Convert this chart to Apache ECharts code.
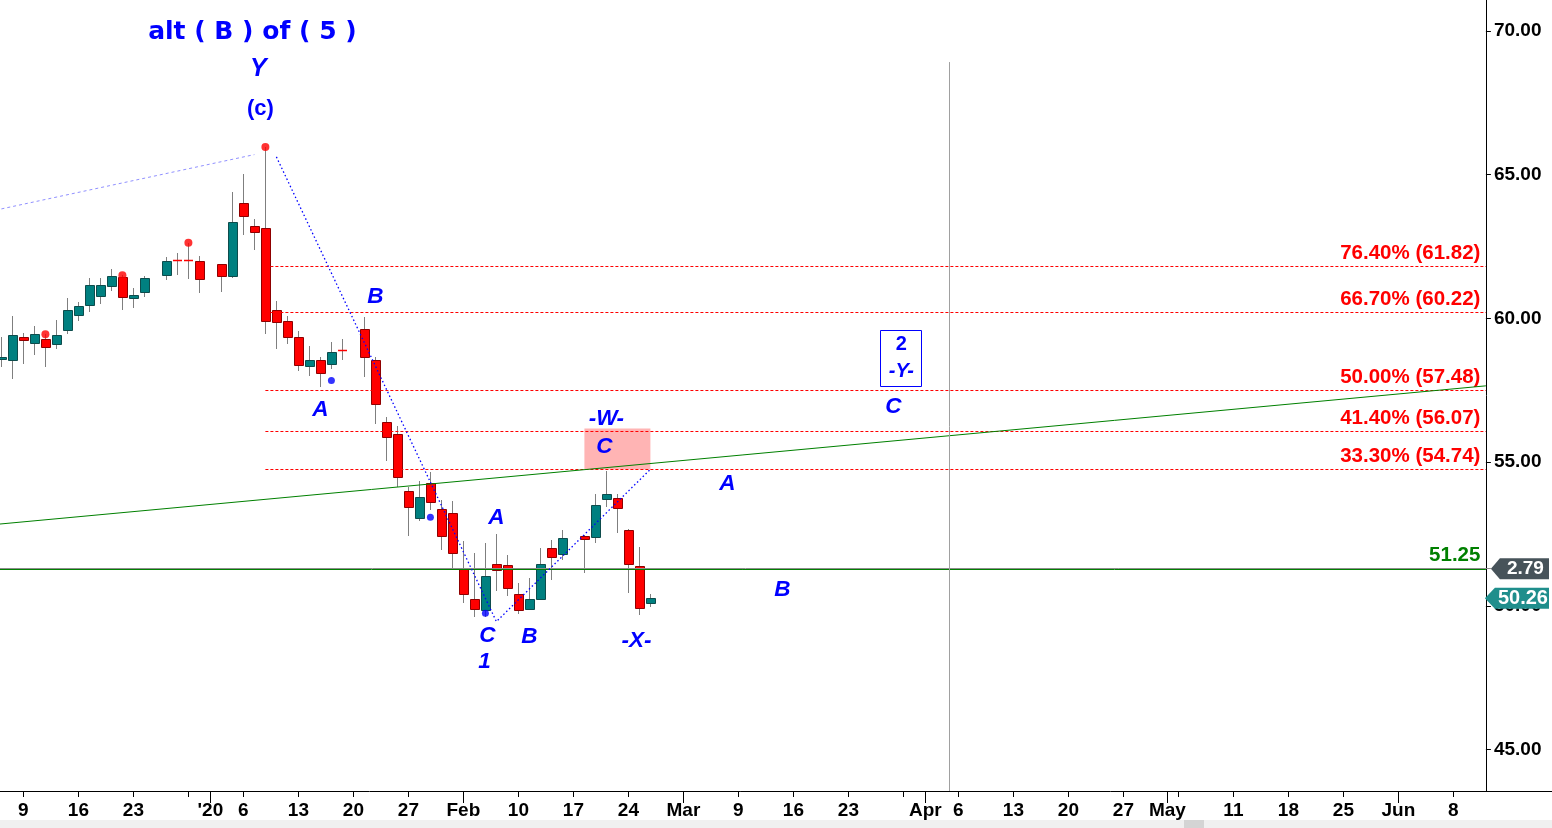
<!DOCTYPE html>
<html><head><meta charset="utf-8">
<script src="https://cdn.jsdelivr.net/npm/echarts@6/dist/echarts.min.js"></script>
<style>html,body{margin:0;padding:0;background:#fff;overflow:hidden}#c{width:1552px;height:828px}</style>
</head><body><div id="c"></div>
<script>
// ---------- data ----------
const axisStart = '2019-12-05';
const axisEnd = '2020-06-10';
const candleDates = ['2019-12-05','2019-12-06','2019-12-09','2019-12-10','2019-12-11','2019-12-12','2019-12-13','2019-12-16','2019-12-17','2019-12-18','2019-12-19','2019-12-20','2019-12-23','2019-12-24','2019-12-26','2019-12-27','2019-12-30','2019-12-31','2020-01-02','2020-01-03','2020-01-06','2020-01-07','2020-01-08','2020-01-09','2020-01-10','2020-01-13','2020-01-14','2020-01-15','2020-01-16','2020-01-17','2020-01-21','2020-01-22','2020-01-23','2020-01-24','2020-01-27','2020-01-28','2020-01-29','2020-01-30','2020-01-31','2020-02-03','2020-02-04','2020-02-05','2020-02-06','2020-02-07','2020-02-10','2020-02-11','2020-02-12','2020-02-13','2020-02-14','2020-02-18','2020-02-19','2020-02-20','2020-02-21','2020-02-24','2020-02-25','2020-02-26'];
const opens  = [58.58,58.53,59.34,59.13,59.27,59.10,59.59,60.11,60.46,60.77,61.12,61.41,60.70,60.89,61.49,62.03,62.00,61.99,61.88,61.45,64.00,63.21,63.14,60.28,59.90,59.34,58.33,58.52,58.40,58.90,59.62,58.55,56.39,55.97,53.98,53.04,54.26,53.36,53.22,51.30,50.23,49.82,51.44,51.41,50.40,49.88,50.23,52.00,51.79,52.42,52.38,53.70,53.74,52.63,51.36,50.09];
const highs  = [59.36,60.08,59.50,59.73,59.45,59.94,60.71,60.57,61.41,61.41,61.72,61.50,61.06,61.46,62.13,62.28,62.64,62.17,61.88,64.40,65.02,63.46,65.96,60.61,60.08,59.56,59.04,58.67,59.18,59.28,60.04,58.67,56.58,56.26,54.14,54.34,54.67,53.68,53.65,52.24,51.83,52.18,52.49,51.77,50.79,50.95,52.01,52.29,52.64,52.46,53.89,54.69,53.89,52.66,52.04,50.40];
const lows   = [58.32,57.90,58.41,58.74,58.32,58.94,59.47,59.92,60.22,60.51,60.96,60.30,60.37,60.76,61.34,61.51,61.38,60.89,60.93,61.42,62.91,62.38,59.46,58.95,59.12,58.18,58.01,57.63,58.25,58.56,57.97,56.32,55.04,54.12,52.42,52.96,53.33,51.93,51.24,50.09,49.60,49.62,50.53,50.35,49.70,49.88,50.20,50.89,51.59,51.15,52.17,53.45,52.54,50.46,49.69,49.97];
const closes = [58.65,59.42,59.22,59.45,58.99,59.41,60.28,60.42,61.15,61.15,61.46,60.73,60.80,61.40,61.99,62.01,61.98,61.35,61.45,63.34,63.54,63.00,59.89,59.86,59.34,58.37,58.52,58.09,58.82,58.88,58.63,57.01,55.86,54.47,53.43,53.78,53.60,52.42,51.83,50.40,49.88,51.02,51.22,50.61,49.84,50.23,51.44,51.69,52.35,52.31,53.50,53.88,53.39,51.44,49.91,50.26];

const yTickValues = [45, 50, 55, 60, 65, 70];
const fibStartDate = '2020-01-08';
const fibValues = [61.82, 60.22, 57.48, 56.07, 54.74];
const fibLabels = ['76.40% (61.82)', '66.70% (60.22)', '50.00% (57.48)', '41.40% (56.07)', '33.30% (54.74)'];
const supportValue = 51.25;
const supportLabel = '51.25';
const priceLineValue = 51.29;

const trendDates = ['2019-12-05', '2020-06-10'];
const trendValues = [52.85, 57.62];
const channelDates = ['2019-12-05', '2020-01-07'];
const channelValues = [63.81, 65.70];
const zigzagDates = ['2020-01-09', '2020-02-06', '2020-02-26'];
const zigzagValues = [65.62, 49.45, 54.75];
const zoneDates = ['2020-02-18', '2020-02-26'];
const zoneValues = [56.17, 54.74];
const eventDate = '2020-04-03';
const eventTop = 68.92;

const redDotDates = ['2019-12-11', '2019-12-20', '2019-12-30', '2020-01-08'];
const redDotValues = [59.45, 61.50, 62.63, 65.96];
const blueDotDates = ['2020-01-16', '2020-01-29', '2020-02-05'];
const blueDotValues = [57.84, 53.08, 49.74];

const waveTexts  = ['alt ( B ) of ( 5 )', 'Y', '(c)', 'B', 'A', '-W-', 'C', 'A', 'C', '1', 'B', '-X-', 'A', 'B', 'C'];
const waveDates  = ['2020-01-07','2020-01-07','2020-01-07','2020-01-22','2020-01-15','2020-02-20','2020-02-20','2020-02-06','2020-02-05','2020-02-05','2020-02-11','2020-02-25','2020-03-06','2020-03-13','2020-03-27'];
const waveValues = [69.965, 68.68, 67.29, 60.74, 56.81, 56.50, 55.53, 53.06, 48.95, 48.04, 48.91, 48.78, 54.24, 50.55, 56.92];
const boxTexts = ['2', '-Y-'];
const boxDate = '2020-03-30';
const boxValue = 58.59;

const tagTexts = ['2.79', '50.26'];
const tagValues = [priceLineValue, 50.26];

// ---------- styles (not data) ----------
const waveKinds = ['title','big','paren','w','w','w','w','w','w','w','w','w','w','w','w'];
const waveDx = [-2, 4, 6, 0, 0, 0, -2, 0, 2, -1, 0, -3, 0, 0, 1];
const BLUE = '#0000ff';
const FONT = '"Liberation Sans", Arial, sans-serif';

// ---------- categories ----------
function buildWeekdays(s, e) {
  const out = [];
  let d = new Date(s + 'T00:00:00Z');
  const end = new Date(e + 'T00:00:00Z');
  while (d <= end) {
    const w = d.getUTCDay();
    if (w !== 0 && w !== 6) out.push(d.toISOString().slice(0, 10));
    d = new Date(d.getTime() + 86400000);
  }
  return out;
}
const categories = buildWeekdays(axisStart, axisEnd);
const idx = d => categories.indexOf(d);
const isMonthStart = i => i > 0 && i < categories.length && categories[i].slice(5, 7) !== categories[i - 1].slice(5, 7);
const isMonday = i => new Date(categories[i] + 'T00:00:00Z').getUTCDay() === 1;
function showLabel(i) {
  if (isMonthStart(i)) return true;
  if (!isMonday(i)) return false;
  for (let k = i - 2; k <= i + 2; k++) if (isMonthStart(k)) return false;
  return true;
}
const monthNames = ['Jan','Feb','Mar','Apr','May','Jun','Jul','Aug','Sep','Oct','Nov','Dec'];
function labelText(v) {
  const i = idx(v);
  const m = +v.slice(5, 7);
  if (isMonthStart(i)) return m === 1 ? "'" + v.slice(2, 4) : monthNames[m - 1];
  return String(+v.slice(8, 10));
}

const candleData = candleDates.map((d, k) => [idx(d), opens[k], highs[k], lows[k], closes[k]]);

const crisp = v => Math.round(v - 0.5) + 0.5;

function renderCandle(params, api) {
  const i = api.value(0), o = api.value(1), h = api.value(2), l = api.value(3), c = api.value(4);
  const pO = api.coord([i, o]), pC = api.coord([i, c]), pH = api.coord([i, h]), pL = api.coord([i, l]);
  const xc = Math.round(pO[0]);
  const x = xc + 0.5;
  const children = [{ type: 'line', shape: { x1: x, y1: Math.round(pH[1]), x2: x, y2: Math.round(pL[1]) }, style: { stroke: '#7f7f7f', lineWidth: 1 } }];
  if (Math.abs(c - o) < 0.03) {
    const y = crisp(pO[1]);
    children.push({ type: 'line', shape: { x1: xc - 4, y1: y, x2: xc + 5, y2: y }, style: { stroke: '#ff0000', lineWidth: 1.5 } });
  } else {
    const up = c > o;
    const top = crisp(Math.min(pO[1], pC[1])), bot = crisp(Math.max(pO[1], pC[1]));
    children.push({ type: 'rect', shape: { x: xc - 4 + 0.5, y: top, width: 9, height: Math.max(bot - top, 1) },
      style: { fill: up ? '#008080' : '#ff0000', stroke: up ? '#0d4c4c' : '#8f0000', lineWidth: 1 } });
  }
  return { type: 'group', children };
}

function renderFib(params, api) {
  const p = api.coord([api.value(0), api.value(1)]);
  const cs = params.coordSys;
  const y = crisp(p[1]);
  const right = cs.x + cs.width;
  return { type: 'group', children: [
    { type: 'line', shape: { x1: p[0], y1: y, x2: right + 5, y2: y }, style: { stroke: '#ff0000', lineWidth: 1, lineDash: [3, 2] } },
    { type: 'text', x: right - 0.5, y: y - 3, style: { text: fibLabels[params.dataIndex], fill: '#ff0000', fontSize: 20.5, fontWeight: 'bold', fontFamily: FONT, align: 'right', verticalAlign: 'bottom' } }
  ] };
}

function renderSupport(params, api) {
  const cs = params.coordSys;
  const yG = crisp(api.coord([0, supportValue])[1]);
  const yP = crisp(api.coord([0, priceLineValue])[1]);
  const right = cs.x + cs.width;
  return { type: 'group', children: [
    { type: 'line', shape: { x1: 0, y1: yP, x2: right + 10, y2: yP }, style: { stroke: '#8c8c8c', lineWidth: 1 } },
    { type: 'line', shape: { x1: 0, y1: yG, x2: right + 5, y2: yG }, style: { stroke: '#008000', lineWidth: 1 } },
    { type: 'text', x: right - 0.5, y: yG - 4, style: { text: supportLabel, fill: '#008000', fontSize: 20.5, fontWeight: 'bold', fontFamily: FONT, align: 'right', verticalAlign: 'bottom' } }
  ] };
}

function renderTrend(params, api) {
  const a = api.coord([api.value(0), api.value(1)]);
  const b = api.coord([api.value(2), api.value(3)]);
  const cs = params.coordSys;
  const s = (b[1] - a[1]) / (b[0] - a[0]);
  const x0 = 0, x1 = cs.x + cs.width + 5;
  return { type: 'line', shape: { x1: x0, y1: a[1] + s * (x0 - a[0]), x2: x1, y2: a[1] + s * (x1 - a[0]) }, style: { stroke: '#008000', lineWidth: 1 } };
}

function renderZone(params, api) {
  const p1 = api.coord([api.value(0), api.value(1)]);
  const p2 = api.coord([api.value(2), api.value(3)]);
  return { type: 'rect', shape: { x: p1[0], y: p1[1], width: p2[0] - p1[0], height: p2[1] - p1[1] }, style: { fill: '#ffb4b4' } };
}

function renderEvent(params, api) {
  const p = api.coord([api.value(0), api.value(1)]);
  const cs = params.coordSys;
  const x = crisp(p[0] + 2);
  return { type: 'line', shape: { x1: x, y1: p[1], x2: x, y2: cs.y + cs.height }, style: { stroke: '#a0a0a0', lineWidth: 1 } };
}

function renderWave(params, api) {
  const p = api.coord([api.value(0), api.value(1)]);
  const k = params.dataIndex;
  const kind = waveKinds[k];
  let st = { fontSize: 22.5, fontWeight: 'bold', fontStyle: 'italic', fontFamily: FONT };
  if (kind === 'title') st = { fontSize: 25, fontWeight: 'bold', fontStyle: 'normal', fontFamily: '"DejaVu Sans", sans-serif' };
  if (kind === 'big') st = { fontSize: 25, fontWeight: 'bold', fontStyle: 'italic', fontFamily: FONT };
  if (kind === 'paren') st = { fontSize: 22, fontWeight: 'bold', fontStyle: 'normal', fontFamily: FONT };
  return { type: 'text', x: p[0] + waveDx[k], y: p[1], style: Object.assign({ text: waveTexts[k], fill: BLUE, align: 'center', verticalAlign: 'middle' }, st) };
}

function renderBox(params, api) {
  const p = api.coord([api.value(0), api.value(1)]);
  const cx = p[0] - 2, cy = p[1];
  return { type: 'group', children: [
    { type: 'rect', shape: { x: crisp(cx - 20.5), y: crisp(cy - 28), width: 41, height: 56 }, style: { fill: '#ffffff', stroke: BLUE, lineWidth: 1 } },
    { type: 'text', x: cx, y: cy - 14, style: { text: boxTexts[0], fill: BLUE, fontSize: 20, fontWeight: 'bold', fontFamily: FONT, align: 'center', verticalAlign: 'middle' } },
    { type: 'text', x: cx, y: cy + 13, style: { text: boxTexts[1], fill: BLUE, fontSize: 20, fontWeight: 'bold', fontStyle: 'italic', fontFamily: FONT, align: 'center', verticalAlign: 'middle' } }
  ] };
}

function renderTag(params, api) {
  const cs = params.coordSys;
  const y = api.coord([0, api.value(1)])[1];
  const k = params.dataIndex;
  const axisX = cs.x + cs.width + 5;
  const tip = k === 0 ? axisX + 5 : axisX - 1;
  const body = k === 0 ? tip + 9 : tip + 10;
  const h = 10.5;
  const right = 1549;
  const color = k === 0 ? '#47535a' : '#1f8e8c';
  return { type: 'group', children: [
    { type: 'polygon', shape: { points: [[tip, y], [body, y - h], [right, y - h], [right, y + h], [body, y + h]] }, style: { fill: color } },
    { type: 'text', x: (body + right) / 2 + 1, y: y + 0.5, style: { text: tagTexts[k], fill: '#ffffff', fontSize: k === 0 ? 19 : 20, fontWeight: 'bold', fontFamily: FONT, align: 'center', verticalAlign: 'middle' } }
  ] };
}

const chart = echarts.init(document.getElementById('c'), null, { renderer: 'canvas' });
const axisFont = { color: '#000', fontWeight: 'bold', fontSize: 19, fontFamily: FONT };
chart.setOption({
  animation: false,
  backgroundColor: '#ffffff',
  grid: { left: -4.1, top: 0, width: 1485, height: 791, containLabel: false, outerBoundsMode: 'none' },
  xAxis: [
    { type: 'category', data: categories, position: 'bottom', boundaryGap: true,
      axisLine: { show: true, lineStyle: { color: '#000', width: 1 } },
      axisTick: { show: true, alignWithLabel: true, length: 6, interval: (i) => isMonday(i) && !isMonthStart(i), lineStyle: { color: '#000' } },
      axisLabel: Object.assign({ show: true, interval: (i) => showLabel(i), formatter: (v) => labelText(v), margin: 10 }, axisFont),
      splitLine: { show: false } },
    { type: 'category', data: categories, position: 'bottom', boundaryGap: true,
      axisLine: { show: false },
      axisTick: { show: true, alignWithLabel: true, length: 12, interval: (i) => isMonthStart(i), lineStyle: { color: '#000' } },
      axisLabel: { show: false }, splitLine: { show: false } }
  ],
  yAxis: {
    type: 'value', position: 'right', offset: 5, min: 43.556, max: 71.079,
    axisLine: { show: true, lineStyle: { color: '#000' } },
    axisTick: { show: true, inside: false, length: 5, customValues: yTickValues, lineStyle: { color: '#000' } },
    axisLabel: Object.assign({ customValues: yTickValues, formatter: (v) => Number(v).toFixed(2), margin: 8 }, axisFont),
    splitLine: { show: false }
  },
  graphic: [
    { type: 'rect', left: 0, top: 820, shape: { width: 1552, height: 8 }, style: { fill: '#f0f0f0' }, silent: true },
    { type: 'rect', left: 1184, top: 820, shape: { width: 20, height: 8 }, style: { fill: '#d4d4d4' }, silent: true },
    { type: 'line', shape: { x1: 1480, y1: 791.5, x2: 1552, y2: 791.5 }, style: { stroke: '#000', lineWidth: 1 }, silent: true }
  ],
  series: [
    { type: 'custom', name: 'zone', renderItem: renderZone, encode: { x: 0, y: 1 },
      data: [[idx(zoneDates[0]), zoneValues[0], idx(zoneDates[1]), zoneValues[1]]], z: 1, silent: true },
    { type: 'custom', name: 'candles', renderItem: renderCandle, encode: { x: 0, y: [1, 2, 3, 4] }, data: candleData, z: 2, silent: true },
    { type: 'custom', name: 'fib', renderItem: renderFib, encode: { x: 0, y: 1 }, data: fibValues.map(v => [idx(fibStartDate), v]), z: 3, silent: true },
    { type: 'custom', name: 'support', renderItem: renderSupport, encode: { x: 0, y: 1 }, data: [[0, supportValue]], z: 3, silent: true },
    { type: 'custom', name: 'trend', renderItem: renderTrend, encode: { x: 0, y: 1 },
      data: [[idx(trendDates[0]), trendValues[0], idx(trendDates[1]), trendValues[1]]], z: 3, silent: true },
    { type: 'line', name: 'channel', data: channelDates.map((d, k) => [idx(d), channelValues[k]]), symbol: 'none',
      lineStyle: { color: '#9090ff', width: 1, type: [3, 3] }, z: 3, silent: true },
    { type: 'line', name: 'zigzag', data: zigzagDates.map((d, k) => [idx(d), zigzagValues[k]]), symbol: 'none',
      lineStyle: { color: '#0000ff', width: 1.3, type: [1.5, 2.5] }, z: 4, silent: true },
    { type: 'custom', name: 'event', renderItem: renderEvent, encode: { x: 0, y: 1 }, data: [[idx(eventDate), eventTop]], z: 3, silent: true },
    { type: 'scatter', name: 'redDots', data: redDotDates.map((d, k) => [idx(d), redDotValues[k]]), symbolSize: 8,
      itemStyle: { color: '#ff0000' }, z: 5, silent: true },
    { type: 'scatter', name: 'blueDots', data: blueDotDates.map((d, k) => [idx(d), blueDotValues[k]]), symbolSize: 7,
      itemStyle: { color: '#0000ff' }, z: 5, silent: true },
    { type: 'custom', name: 'waves', renderItem: renderWave, encode: { x: 0, y: 1 }, data: waveDates.map((d, k) => [idx(d), waveValues[k]]), z: 6, silent: true },
    { type: 'custom', name: 'box', renderItem: renderBox, encode: { x: 0, y: 1 }, data: [[idx(boxDate), boxValue]], z: 6, silent: true },
    { type: 'custom', name: 'tags', renderItem: renderTag, encode: { x: 0, y: 1 }, data: tagValues.map(v => [0, v]), z: 7, silent: true }
  ]
});
</script>
</body></html>
